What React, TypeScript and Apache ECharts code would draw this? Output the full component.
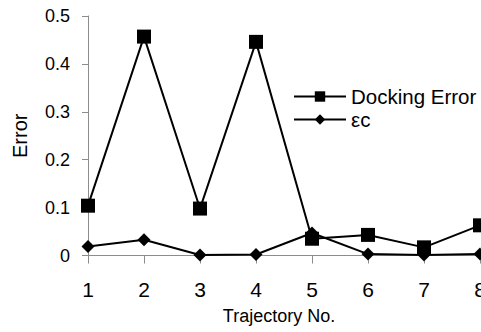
import React, { useEffect, useRef } from "react";
import * as echarts from "echarts";

// Trajectory numbers along the x axis
const trajectories = ["1", "2", "3", "4", "5", "6", "7", "8"];
// Docking error per trajectory
const dockingError = [0.104, 0.457, 0.098, 0.446, 0.035, 0.043, 0.017, 0.063];
// εc per trajectory
const epsilonC = [0.019, 0.033, 0.001, 0.002, 0.047, 0.003, 0.001, 0.003];

const FONT = "'Liberation Sans', Arial, sans-serif";
const AXIS_GREY = "#8c8c8c";

export default function App() {
  const ref = useRef<HTMLDivElement>(null);

  useEffect(() => {
    if (!ref.current) return;
    const chart = echarts.init(ref.current, null, { renderer: "svg" });
    chart.setOption({
      animation: false,
      backgroundColor: "#ffffff",
      textStyle: { fontFamily: FONT, color: "#000" },
      grid: {
        left: 88,
        right: 1,
        top: 16,
        bottom: 76.5,
        outerBoundsMode: "none",
        containLabel: false,
      },
      legend: {
        orient: "vertical",
        left: 293,
        top: 86,
        padding: 0,
        itemWidth: 52,
        itemHeight: 13,
        itemGap: 2,
        textStyle: { fontFamily: FONT, fontSize: 20.5, color: "#000" },
        data: ["Docking Error", "εc"],
      },
      xAxis: {
        type: "category",
        data: trajectories,
        boundaryGap: false,
        name: "Trajectory No.",
        nameLocation: "middle",
        nameGap: 51,
        nameTextStyle: { fontFamily: FONT, fontSize: 18, color: "#000", padding: [0, 10, 0, 0] },
        axisLine: { lineStyle: { color: AXIS_GREY, width: 1 } },
        axisTick: { show: true, length: 8, lineStyle: { color: AXIS_GREY } },
        axisLabel: { fontFamily: FONT, fontSize: 21, color: "#000", margin: 23 },
        splitLine: { show: false },
      },
      yAxis: {
        type: "value",
        min: 0,
        max: 0.5,
        interval: 0.1,
        name: "Error",
        nameLocation: "middle",
        nameRotate: 90,
        nameGap: 58,
        nameTextStyle: { fontFamily: FONT, fontSize: 20, color: "#000" },
        axisLine: { show: true, lineStyle: { color: AXIS_GREY, width: 1 } },
        axisTick: { show: true, length: 6, lineStyle: { color: AXIS_GREY } },
        axisLabel: { fontFamily: FONT, fontSize: 18, color: "#000", margin: 18 },
        splitLine: { show: false },
      },
      series: [
        {
          name: "Docking Error",
          type: "line",
          data: dockingError,
          symbol: "rect",
          symbolSize: 14,
          showAllSymbol: true,
          lineStyle: { color: "#000", width: 2 },
          itemStyle: { color: "#000" },
          z: 3,
        },
        {
          name: "εc",
          type: "line",
          data: epsilonC,
          symbol: "diamond",
          symbolSize: 13,
          showAllSymbol: true,
          lineStyle: { color: "#000", width: 2 },
          itemStyle: { color: "#000" },
          z: 2,
        },
      ],
    });
    return () => chart.dispose();
  }, []);

  return (
    <div
      ref={ref}
      style={{ position: "absolute", left: 0, top: 0, width: 481, height: 332 }}
    />
  );
}
